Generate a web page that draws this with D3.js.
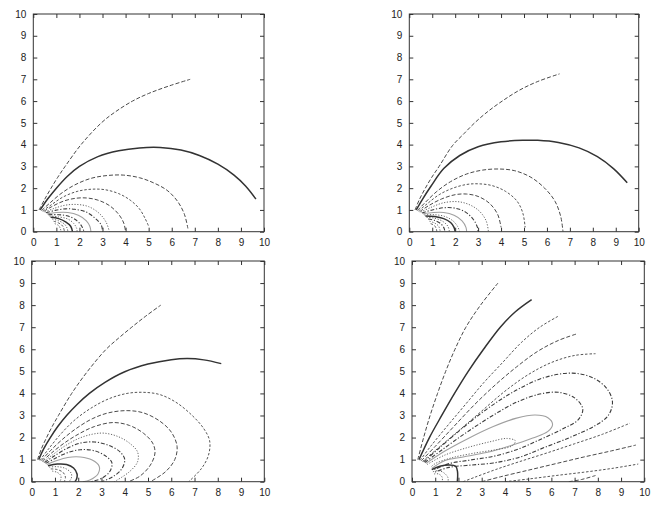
<!DOCTYPE html>
<html><head><meta charset="utf-8">
<script src="https://cdn.jsdelivr.net/npm/d3@7"></script>
<style>html,body{margin:0;padding:0;background:#fff;}svg{display:block;}</style>
</head><body>
<svg id="chart" width="664" height="514"></svg>
<script>
// ---- data ----
const tickValues = [0,1,2,3,4,5,6,7,8,9,10];

const panel1Curves = [
  [[0.25,1.0],[0.5,1.5],[0.77,2.0],[1.06,2.5],[1.38,3.0],[2.07,4.0],[2.95,5.0],[3.55,5.5],[4.3,6.0],[5.0,6.35],[5.9,6.7],[6.8,7.0]],
  [[0.3,1.0],[0.62,1.5],[1.0,2.0],[1.48,2.55],[2.0,3.0],[2.8,3.45],[3.7,3.72],[4.6,3.85],[5.5,3.87],[6.4,3.75],[7.2,3.5],[8.0,3.1],[8.7,2.6],[9.2,2.1],[9.65,1.5]],
  [[0.35,0.97],[0.7,1.3],[1.2,1.75],[1.8,2.15],[2.5,2.45],[3.2,2.58],[3.9,2.6],[4.6,2.48],[5.2,2.25],[5.8,1.9],[6.25,1.4],[6.55,0.8],[6.7,0.15]],
  [[0.4,0.95],[0.8,1.25],[1.3,1.6],[1.9,1.85],[2.5,1.95],[3.1,1.93],[3.7,1.75],[4.2,1.45],[4.6,1.05],[4.85,0.6],[5.0,0.25]],
  [[0.45,0.93],[0.8,1.15],[1.3,1.4],[1.8,1.53],[2.3,1.55],[2.8,1.45],[3.3,1.2],[3.7,0.8],[3.92,0.4],[4.0,0.0]],
  [[0.5,0.9],[0.9,1.07],[1.4,1.22],[1.9,1.25],[2.4,1.15],[2.85,0.85],[3.15,0.45],[3.3,0.0]],
  [[0.55,0.87],[0.95,0.98],[1.4,1.05],[1.8,1.03],[2.3,0.9],[2.7,0.6],[2.95,0.3],[3.0,0.0]],
  [[0.6,0.82],[1.0,0.88],[1.5,0.88],[1.95,0.75],[2.3,0.5],[2.45,0.25],[2.5,0.0]],
  [[0.65,0.78],[1.1,0.78],[1.5,0.72],[1.9,0.5],[2.1,0.25],[2.2,0.0]],
  [[0.7,0.72],[1.1,0.68],[1.5,0.58],[1.75,0.38],[1.88,0.15],[1.9,0.0]],
  [[0.75,0.66],[1.1,0.6],[1.4,0.45],[1.62,0.25],[1.7,0.0]],
  [[0.82,0.58],[1.1,0.5],[1.35,0.35],[1.47,0.15],[1.5,0.0]],
  [[0.88,0.48],[1.1,0.4],[1.28,0.25],[1.35,0.0]],
  [[0.93,0.37],[1.1,0.28],[1.18,0.12],[1.2,0.0]]
];
const panel1Styles = ["dash","solid","dash","short","dash","dot","dashdot","gray","dashdot","dot","solid","dot","short","dot"];

const panel2Curves = [
  [[0.25,1.0],[0.45,1.5],[0.7,2.0],[0.98,2.5],[1.3,3.0],[1.88,3.95],[2.38,4.5],[2.85,5.0],[3.4,5.5],[4.05,6.0],[4.8,6.5],[5.6,6.9],[6.55,7.25]],
  [[0.3,1.0],[0.58,1.5],[0.95,2.1],[1.5,2.9],[2.2,3.5],[3.0,3.9],[4.0,4.13],[5.0,4.2],[5.6,4.2],[6.5,4.1],[7.4,3.85],[8.2,3.45],[8.9,2.9],[9.5,2.25]],
  [[0.35,0.97],[0.7,1.35],[1.2,1.85],[1.8,2.3],[2.5,2.65],[3.2,2.83],[3.9,2.88],[4.6,2.8],[5.3,2.5],[5.9,2.0],[6.35,1.4],[6.6,0.7],[6.7,0.0]],
  [[0.4,0.95],[0.8,1.3],[1.3,1.7],[1.9,2.0],[2.5,2.17],[3.0,2.2],[3.6,2.12],[4.2,1.85],[4.7,1.4],[4.95,0.85],[5.05,0.2]],
  [[0.45,0.92],[0.85,1.2],[1.4,1.5],[2.0,1.7],[2.5,1.73],[3.0,1.62],[3.5,1.3],[3.85,0.8],[4.0,0.2]],
  [[0.5,0.9],[0.95,1.12],[1.5,1.33],[2.1,1.38],[2.6,1.25],[3.05,0.95],[3.35,0.5],[3.45,0.0]],
  [[0.55,0.86],[1.0,1.0],[1.5,1.1],[2.0,1.08],[2.45,0.9],[2.8,0.55],[2.97,0.2],[3.0,0.0]],
  [[0.6,0.82],[1.05,0.88],[1.5,0.88],[1.95,0.75],[2.3,0.5],[2.47,0.2],[2.5,0.0]],
  [[0.65,0.77],[1.1,0.78],[1.55,0.7],[1.9,0.5],[2.1,0.25],[2.2,0.0]],
  [[0.7,0.72],[1.1,0.7],[1.5,0.6],[1.8,0.42],[1.95,0.2],[2.0,0.0]],
  [[0.75,0.66],[1.1,0.62],[1.45,0.48],[1.68,0.25],[1.75,0.0]],
  [[0.82,0.58],[1.1,0.52],[1.38,0.36],[1.52,0.15],[1.55,0.0]],
  [[0.88,0.48],[1.1,0.4],[1.28,0.25],[1.35,0.0]],
  [[0.93,0.37],[1.1,0.28],[1.18,0.12],[1.2,0.0]]
];
const panel2Styles = ["dash","solid","dash","short","dash","dot","dashdot","gray","dot","solid","dot","dashdot","dot","short"];

const panel3Curves = [
  [[0.25,1.0],[0.42,1.5],[0.64,2.0],[0.88,2.5],[1.15,3.0],[1.72,4.0],[2.4,5.0],[3.2,6.0],[3.73,6.5],[4.3,7.0],[4.9,7.5],[5.55,8.0]],
  [[0.3,1.0],[0.52,1.5],[0.8,2.0],[1.12,2.5],[1.5,3.0],[1.95,3.5],[2.48,4.0],[3.15,4.5],[4.0,4.98],[5.0,5.33],[6.0,5.53],[6.7,5.58],[7.4,5.52],[8.15,5.35]],
  [[0.35,0.97],[0.7,1.45],[1.2,2.1],[1.8,2.75],[2.5,3.3],[3.3,3.75],[4.1,4.0],[4.8,4.05],[5.5,3.95],[6.2,3.6],[6.9,3.0],[7.4,2.4],[7.65,1.85],[7.6,1.2],[7.3,0.6],[6.75,0.0]],
  [[0.4,0.95],[0.8,1.4],[1.3,1.9],[1.9,2.4],[2.6,2.85],[3.3,3.12],[4.1,3.22],[4.8,3.12],[5.5,2.75],[6.0,2.25],[6.25,1.6],[6.15,1.0],[5.75,0.45],[5.1,0.0]],
  [[0.45,0.92],[0.85,1.3],[1.4,1.75],[2.0,2.15],[2.7,2.5],[3.5,2.68],[4.2,2.55],[4.8,2.2],[5.2,1.75],[5.3,1.3],[5.1,0.75],[4.65,0.25],[4.15,0.0]],
  [[0.5,0.9],[0.9,1.22],[1.4,1.6],[2.0,1.95],[2.6,2.15],[3.1,2.2],[3.7,2.05],[4.2,1.75],[4.55,1.35],[4.55,0.9],[4.2,0.45],[3.55,0.0]],
  [[0.55,0.87],[0.95,1.15],[1.5,1.5],[2.1,1.75],[2.7,1.8],[3.3,1.65],[3.8,1.35],[4.0,1.0],[3.85,0.55],[3.45,0.2],[3.0,0.0]],
  [[0.6,0.83],[1.0,1.05],[1.5,1.3],[2.1,1.45],[2.7,1.4],[3.2,1.15],[3.45,0.85],[3.35,0.45],[3.0,0.15],[2.55,0.0]],
  [[0.65,0.78],[1.05,0.95],[1.55,1.1],[2.1,1.12],[2.6,0.98],[2.9,0.7],[2.85,0.35],[2.5,0.08],[2.2,0.0]],
  [[0.7,0.72],[1.1,0.8],[1.5,0.78],[1.8,0.62],[1.95,0.35],[1.92,0.1],[1.85,0.0]],
  [[0.75,0.66],[1.1,0.68],[1.45,0.6],[1.7,0.38],[1.7,0.15],[1.6,0.0]],
  [[0.82,0.58],[1.1,0.55],[1.35,0.42],[1.45,0.2],[1.4,0.0]],
  [[0.88,0.48],[1.1,0.42],[1.25,0.28],[1.25,0.1],[1.2,0.0]]
];
const panel3Styles = ["dash","solid","short","dash","dash","dot","dashdot","dashdot","gray","solid","dot","short","dot"];

const panel4Curves = [
  [[0.25,1.0],[0.5,2.0],[0.78,3.0],[1.1,4.0],[1.45,5.0],[1.85,6.0],[2.32,7.0],[2.95,8.0],[3.7,9.0]],
  [[0.3,1.0],[0.75,2.0],[1.28,3.0],[1.83,4.0],[2.42,5.0],[3.08,6.0],[3.8,7.0],[4.45,7.7],[5.15,8.25]],
  [[0.35,0.97],[0.8,1.6],[1.5,2.5],[2.3,3.5],[3.1,4.5],[3.9,5.4],[4.7,6.3],[5.5,7.0],[6.3,7.5]],
  [[0.4,0.95],[1.0,1.6],[1.8,2.5],[2.7,3.5],[3.6,4.4],[4.5,5.2],[5.4,5.9],[6.3,6.4],[7.1,6.7]],
  [[0.45,0.92],[1.1,1.5],[2.0,2.3],[3.0,3.2],[4.0,4.1],[5.0,4.85],[6.0,5.4],[7.0,5.72],[7.9,5.8]],
  [[0.5,0.9],[1.2,1.55],[2.2,2.45],[3.3,3.35],[4.5,4.15],[5.7,4.72],[6.9,4.92],[7.8,4.7],[8.4,4.2],[8.63,3.6],[8.45,3.0],[7.9,2.55],[6.9,2.05],[5.7,1.55],[4.6,1.1],[3.5,0.85],[2.5,0.75],[1.6,0.65],[0.95,0.42]],
  [[0.55,0.87],[1.3,1.45],[2.3,2.2],[3.4,2.95],[4.5,3.6],[5.5,3.97],[6.3,4.05],[7.0,3.8],[7.35,3.3],[7.15,2.8],[6.5,2.4],[5.5,1.9],[4.5,1.45],[3.5,1.15],[2.5,0.98],[1.6,0.82],[0.9,0.52]],
  [[0.6,0.83],[1.4,1.38],[2.4,1.95],[3.5,2.5],[4.5,2.88],[5.3,3.02],[5.85,2.9],[6.05,2.6],[5.85,2.28],[5.2,1.98],[4.2,1.62],[3.2,1.32],[2.2,1.12],[1.4,0.95],[0.85,0.6]],
  [[0.65,0.78],[1.4,1.2],[2.4,1.55],[3.4,1.82],[4.1,1.96],[4.45,1.85],[4.3,1.62],[3.6,1.45],[2.6,1.28],[1.7,1.08],[1.0,0.82],[0.8,0.65]],
  [[0.85,0.55],[1.2,0.7],[1.6,0.76],[1.88,0.7],[1.96,0.45],[1.95,0.0]],
  [[2.2,0.0],[2.7,0.2],[3.6,0.55],[4.6,0.9],[5.8,1.3],[7.0,1.72],[8.2,2.15],[9.38,2.65]],
  [[3.0,0.0],[3.8,0.22],[5.0,0.52],[6.2,0.82],[7.4,1.12],[8.6,1.4],[9.64,1.66]],
  [[4.0,0.0],[5.0,0.12],[6.2,0.28],[7.4,0.43],[8.6,0.6],[9.74,0.8]],
  [[6.75,0.0],[7.3,0.1],[7.9,0.28]],
  [[0.9,0.45],[1.15,0.5],[1.4,0.38],[1.55,0.18],[1.55,0.0]],
  [[0.95,0.35],[1.15,0.35],[1.3,0.2],[1.3,0.0]]
];
const panel4Styles = ["dash","solid","short","dash","short","dashdot","dashdot","gray","dot","solid","short","dash","short","dash","dot","dot"];

// ---- layout and styles ----
const panels = [
  {curves: panel1Curves, styles: panel1Styles, left: 33.3, right: 264, top: 14, bottom: 231.7},
  {curves: panel2Curves, styles: panel2Styles, left: 409.3, right: 638.7, top: 14, bottom: 231.7},
  {curves: panel3Curves, styles: panel3Styles, left: 31.7, right: 264.3, top: 261, bottom: 481.7},
  {curves: panel4Curves, styles: panel4Styles, left: 412, right: 644.3, top: 261, bottom: 481.7}
];
const lineStyles = {
  solid:   {stroke: "#333", width: 1.5, dash: null},
  dash:    {stroke: "#4a4a4a", width: 1.0, dash: "4,2"},
  short:   {stroke: "#555", width: 1.0, dash: "2.5,1.8"},
  dot:     {stroke: "#666", width: 1.0, dash: "1.2,1.6"},
  dashdot: {stroke: "#3d3d3d", width: 1.1, dash: "4,1.8,1.2,1.8"},
  gray:    {stroke: "#a0a0a0", width: 1.1, dash: null}
};

const svg = d3.select("#chart");
panels.forEach((p, i) => {
  const x = d3.scaleLinear().domain([0, 10]).range([p.left, p.right]);
  const y = d3.scaleLinear().domain([0, 10]).range([p.bottom, p.top]);
  const g = svg.append("g");
  const clipId = "clip" + i;
  svg.append("clipPath").attr("id", clipId).append("rect")
    .attr("x", p.left).attr("y", p.top).attr("width", p.right - p.left).attr("height", p.bottom - p.top);

  const line = d3.line().x(d => x(d[0])).y(d => y(d[1])).curve(d3.curveCatmullRom.alpha(0.5));
  const cg = g.append("g").attr("clip-path", `url(#${clipId})`);
  p.curves.forEach((c, j) => {
    const s = lineStyles[p.styles[j]];
    cg.append("path").attr("d", line(c)).attr("fill", "none")
      .attr("stroke", s.stroke).attr("stroke-width", s.width)
      .attr("stroke-dasharray", s.dash);
  });

  const font = "'Liberation Sans', Arial, sans-serif";
  const tl = 4;
  const axB = g.append("g").attr("transform", `translate(0,${p.bottom})`)
    .call(d3.axisBottom(x).tickValues(tickValues).tickSizeInner(-tl).tickSizeOuter(0).tickPadding(7).tickFormat(d3.format("d")));
  const axT = g.append("g").attr("transform", `translate(0,${p.top})`)
    .call(d3.axisTop(x).tickValues(tickValues).tickSizeInner(-tl).tickSizeOuter(0).tickFormat(""));
  const axL = g.append("g").attr("transform", `translate(${p.left},0)`)
    .call(d3.axisLeft(y).tickValues(tickValues).tickSizeInner(-tl).tickSizeOuter(0).tickPadding(7).tickFormat(d3.format("d")));
  const axR = g.append("g").attr("transform", `translate(${p.right},0)`)
    .call(d3.axisRight(y).tickValues(tickValues).tickSizeInner(-tl).tickSizeOuter(0).tickFormat(""));
  [axB, axT, axL, axR].forEach(a => {
    a.select(".domain").remove();
    a.selectAll("line").attr("stroke", "#333").attr("stroke-width", 1);
    a.selectAll("text").attr("fill", "#222").style("font-family", font).style("font-size", "10px");
  });
  g.append("rect").attr("x", p.left).attr("y", p.top)
    .attr("width", p.right - p.left).attr("height", p.bottom - p.top)
    .attr("fill", "none").attr("stroke", "#333").attr("stroke-width", 1);
});
</script>
</body></html>
